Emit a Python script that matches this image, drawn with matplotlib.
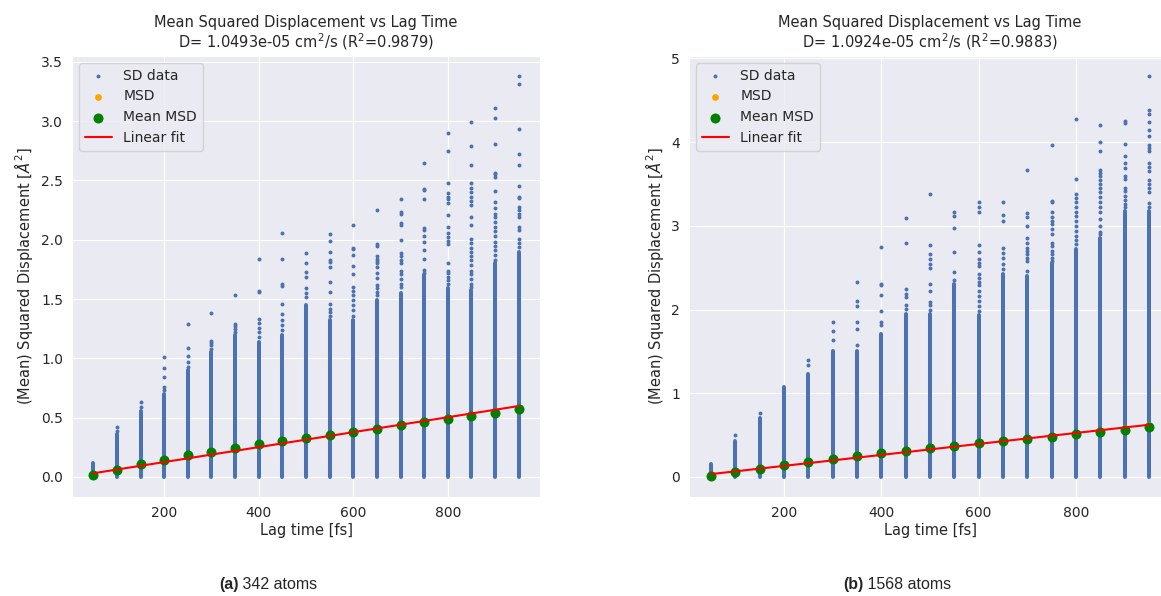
import matplotlib
matplotlib.use("Agg")
import matplotlib.pyplot as plt
import seaborn as sns

# lag times of the SD columns (fs)
lag_fs = [50, 100, 150, 200, 250, 300, 350, 400, 450, 500,
          550, 600, 650, 700, 750, 800, 850, 900, 950]

# ---- (a) 342 atoms ----
a_dense_top = [0.12, 0.36, 0.56, 0.70, 0.90, 1.05, 1.20, 1.14, 1.20, 1.45,
               1.32, 1.32, 1.49, 1.55, 1.70, 1.59, 1.58, 1.80, 1.90]
a_sparse = [
    [],
    [0.39, 0.42],
    [0.59, 0.63],
    [0.73, 0.76, 0.84, 0.92, 1.01],
    [0.93, 0.97, 1.02, 1.09, 1.29],
    [1.08, 1.11, 1.13, 1.15, 1.38],
    [1.22, 1.25, 1.27, 1.29, 1.53],
    [1.18, 1.22, 1.26, 1.30, 1.33, 1.56, 1.57, 1.84],
    [1.24, 1.28, 1.32, 1.37, 1.46, 1.61, 1.63, 1.84, 2.06],
    [1.52, 1.55, 1.59, 1.69, 1.73, 1.80, 1.89],
    [1.36, 1.39, 1.42, 1.46, 1.56, 1.64, 1.77, 1.81, 1.83, 1.90, 1.99, 2.05],
    [1.36, 1.41, 1.45, 1.49, 1.53, 1.57, 1.60, 1.71, 1.78, 1.87, 1.92, 1.93, 2.12],
    [1.53, 1.56, 1.59, 1.62, 1.68, 1.72, 1.77, 1.80, 1.82, 1.84, 1.86, 1.95,
     1.96, 2.25],
    [1.60, 1.63, 1.67, 1.71, 1.74, 1.80, 1.83, 1.86, 1.89, 2.00, 2.12, 2.14,
     2.22, 2.23, 2.34],
    [1.72, 1.745, 1.84, 1.91, 1.98, 2.03, 2.08, 2.10, 2.34, 2.42, 2.43, 2.65],
    [1.63, 1.66, 1.69, 1.72, 1.74, 1.80, 1.96, 1.99, 2.02, 2.06, 2.11, 2.21,
     2.31, 2.34, 2.36, 2.39, 2.48, 2.75, 2.90],
    [1.60, 1.63, 1.67, 1.71, 1.74, 1.79, 1.83, 1.86, 1.90, 1.93, 1.97, 2.01,
     2.12, 2.19, 2.29, 2.33, 2.36, 2.40, 2.44, 2.48, 2.63, 2.79, 2.99],
    [1.83, 1.87, 1.91, 1.95, 1.98, 2.03, 2.07, 2.11, 2.15, 2.19, 2.22, 2.27,
     2.32, 2.41, 2.53, 2.55, 2.56, 2.81, 3.03, 3.11],
    [1.94, 1.97, 2.01, 2.08, 2.11, 2.19, 2.22, 2.25, 2.28, 2.35, 2.36, 2.45,
     2.63, 2.72, 2.93, 3.31, 3.38],
]
a_msd = [0.017, 0.059, 0.107, 0.146, 0.182, 0.213, 0.241, 0.275, 0.303, 0.332,
         0.357, 0.377, 0.407, 0.438, 0.461, 0.492, 0.517, 0.542, 0.570]
a_mean_msd = [0.017, 0.059, 0.107, 0.146, 0.182, 0.213, 0.241, 0.275, 0.303, 0.332,
              0.357, 0.377, 0.407, 0.438, 0.461, 0.492, 0.517, 0.542, 0.570]
a_fit_t = [50, 950]
a_fit_y = [0.031, 0.598]
a_title = "Mean Squared Displacement vs Lag Time\nD= 1.0493e-05 cm$^2$/s (R$^2$=0.9879)"

# ---- (b) 1568 atoms ----
b_dense_top = [0.155, 0.43, 0.71, 1.07, 1.23, 1.50, 1.51, 1.71, 1.95, 1.95,
               2.30, 1.93, 2.42, 2.40, 2.56, 2.72, 2.86, 3.18, 3.18]
b_sparse = [
    [],
    [0.50],
    [0.76],
    [],
    [1.34, 1.40],
    [1.64, 1.74, 1.85],
    [1.58, 1.77, 1.85, 2.04, 2.10, 2.33],
    [1.82, 1.85, 1.98, 2.17, 2.29, 2.31, 2.75],
    [2.01, 2.05, 2.15, 2.19, 2.25, 2.79, 3.09],
    [2.00, 2.05, 2.09, 2.22, 2.31, 2.50, 2.55, 2.60, 2.66, 2.77, 3.38],
    [2.35, 2.45, 2.69, 2.98, 3.12, 3.17],
    [1.98, 2.04, 2.10, 2.16, 2.22, 2.29, 2.33, 2.38, 2.42, 2.52, 2.56, 2.60,
     2.69, 2.77, 3.17, 3.22, 3.28],
    [2.48, 2.54, 2.62, 2.68, 2.73, 3.06, 3.13, 3.28],
    [2.46, 2.58, 2.62, 2.66, 2.70, 2.74, 2.80, 2.86, 3.00, 3.11, 3.15, 3.67],
    [2.58, 2.62, 2.66, 2.70, 2.76, 2.80, 2.90, 2.96, 3.02, 3.06, 3.10, 3.16,
     3.29, 3.30, 3.97],
    [2.78, 2.83, 2.88, 2.94, 3.00, 3.06, 3.12, 3.17, 3.22, 3.28, 3.33, 3.38,
     3.56, 4.28],
    [2.90, 2.93, 3.00, 3.08, 3.16, 3.22, 3.28, 3.34, 3.40, 3.45, 3.50, 3.55,
     3.59, 3.63, 3.67, 3.90, 4.00, 4.20],
    [3.22, 3.26, 3.31, 3.36, 3.42, 3.45, 3.56, 3.59, 3.69, 3.75, 3.83, 3.98,
     4.23, 4.25],
    [3.22, 3.27, 3.40, 3.45, 3.50, 3.55, 3.65, 3.70, 3.75, 3.89, 3.93, 3.97,
     4.07, 4.14, 4.24, 4.34, 4.38, 4.79],
]
b_msd = [0.016, 0.063, 0.100, 0.143, 0.180, 0.214, 0.250, 0.286, 0.313, 0.341,
         0.373, 0.400, 0.428, 0.456, 0.482, 0.518, 0.550, 0.580, 0.615]
b_mean_msd = [0.016, 0.063, 0.100, 0.143, 0.180, 0.214, 0.250, 0.286, 0.313, 0.341,
              0.373, 0.400, 0.428, 0.456, 0.480, 0.508, 0.536, 0.563, 0.591]
b_fit_t = [50, 950]
b_fit_y = [0.034, 0.624]
b_title = "Mean Squared Displacement vs Lag Time\nD= 1.0924e-05 cm$^2$/s (R$^2$=0.9883)"

captions = [("(a)", " 342 atoms"), ("(b)", " 1568 atoms")]

sns.set_style("darkgrid")
plt.rcParams['font.family'] = ['DejaVu Sans']

SD_BLUE = "#4c72b0"
W, H = 1161, 596


def draw(ax, dense_top, sparse, msd, mean_msd, fit_t, fit_y, title):
    # the crowded lower part of each column is drawn as a thick rounded segment
    ax.vlines(lag_fs, 0, dense_top, colors=SD_BLUE, linewidth=2.9,
              capstyle='round', zorder=2)
    xs, ys = [], []
    for t, vals in zip(lag_fs, sparse):
        xs += [t] * len(vals)
        ys += vals
    h_sd = ax.scatter(xs, ys, s=8, color=SD_BLUE, linewidths=0, zorder=2,
                      label="SD data")
    h_msd = ax.scatter(lag_fs, msd, s=24, color="orange", linewidths=0,
                       zorder=3, label="MSD")
    h_mean = ax.scatter(lag_fs, mean_msd, s=52, color="green", linewidths=0,
                        zorder=4, label="Mean MSD")
    h_fit, = ax.plot(fit_t, fit_y, color="red", linewidth=1.5, zorder=5,
                     label="Linear fit")
    ax.set_xlim(5, 995)
    ax.set_title(title, fontsize=10.5, linespacing=1.1)
    ax.set_xlabel("Lag time [fs]", fontsize=10.5, labelpad=2)
    ax.set_ylabel(r"(Mean) Squared Displacement [$\AA^2$]", fontsize=10.5)
    ax.tick_params(labelsize=10, pad=3)
    ax.legend(handles=[h_sd, h_msd, h_mean, h_fit], loc="upper left",
              fontsize=10)


fig = plt.figure(figsize=(W / 100, H / 100), dpi=100)
ax_a = fig.add_axes([72 / W, 99 / H, 468 / W, 441 / H])
ax_b = fig.add_axes([689 / W, 99 / H, 482 / W, 441 / H])

draw(ax_a, a_dense_top, a_sparse, a_msd, a_mean_msd, a_fit_t, a_fit_y, a_title)
draw(ax_b, b_dense_top, b_sparse, b_msd, b_mean_msd, b_fit_t, b_fit_y, b_title)

for (bold, rest), x0 in zip(captions, [219, 843]):
    t = fig.text(x0 / W, 1 - 592 / H, bold, fontsize=11.5, weight='bold',
                 family='Liberation Sans', ha='left', va='bottom')
    fig.text(0, 0, rest, fontsize=11.5, family='Liberation Sans',
             ha='left', va='bottom',
             transform=matplotlib.transforms.offset_copy(
                 fig.transFigure, fig=fig, x=0, y=0, units='dots'))
    # position the regular part right after the bold label
    fig.canvas.draw()
    bb = t.get_window_extent()
    fig.texts[-1].set_position((bb.x1 / W, bb.y0 / H))

fig.savefig("out.png", dpi=100)
